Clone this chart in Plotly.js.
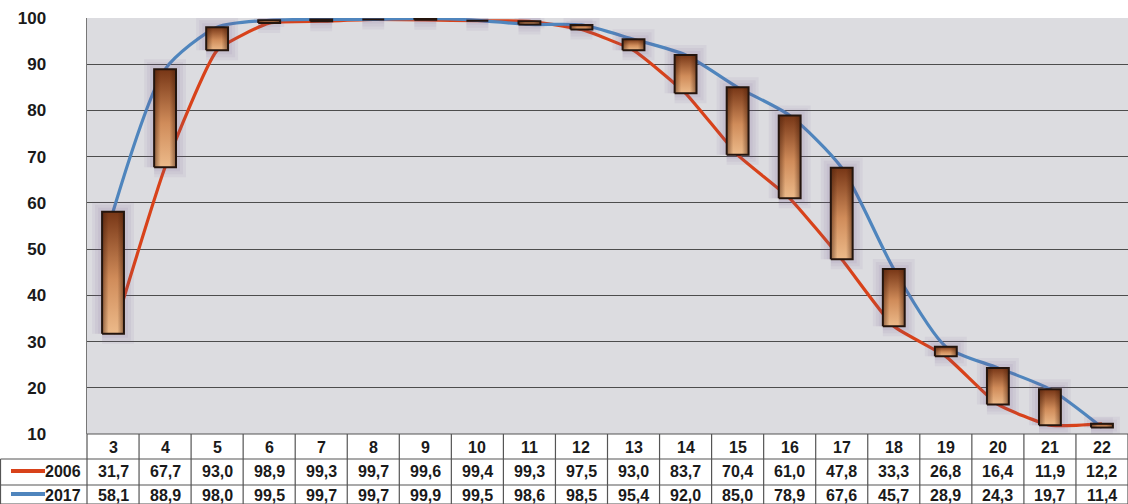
<!DOCTYPE html>
<html><head><meta charset="utf-8">
<script src="https://cdn.plot.ly/plotly-3.0.1.min.js"></script>
<style>html,body{margin:0;padding:0;background:#fff;}#chart{width:1128px;height:504px;}</style>
</head><body><div id="chart"></div>
<script>
const categories = [3,4,5,6,7,8,9,10,11,12,13,14,15,16,17,18,19,20,21,22];
const series2006 = [31.7,67.7,93.0,98.9,99.3,99.7,99.6,99.4,99.3,97.5,93.0,83.7,70.4,61.0,47.8,33.3,26.8,16.4,11.9,12.2];
const series2017 = [58.1,88.9,98.0,99.5,99.7,99.7,99.9,99.5,98.6,98.5,95.4,92.0,85.0,78.9,67.6,45.7,28.9,24.3,19.7,11.4];
const yTicks = [10,20,30,40,50,60,70,80,90,100];

const W = 1128, H = 504, ML = 87, MR = 0, MT = 18, MB = 70;
const plotW = W - ML - MR, plotH = H - MT - MB;
const pyToPaper = py => (H - MB - py) / plotH;
const pxToPaper = px => (px - ML) / plotW;

const RED = '#d8421a', BLUE = '#4f85bd';
const FONT = 'Liberation Sans, Arial, sans-serif';
const fmt = v => v.toFixed(1).replace('.', ',');

const traces = [];
traces.push({x: categories, y: series2006, type: 'scatter', mode: 'lines',
  line: {color: RED, width: 3.2, shape: 'spline', smoothing: 0.45}, hoverinfo: 'skip', showlegend: false});
traces.push({x: categories, y: series2017, type: 'scatter', mode: 'lines',
  line: {color: BLUE, width: 3.2, shape: 'spline', smoothing: 0.7}, hoverinfo: 'skip', showlegend: false});

const hw = 0.21;
categories.forEach((c, i) => {
  const lo = Math.min(series2006[i], series2017[i]);
  const hi = Math.max(series2006[i], series2017[i]);
  const bx = [c-hw, c+hw, c+hw, c-hw, c-hw], by = [lo, lo, hi, hi, lo];
  // soft glow
  [20, 14, 8].forEach(w => {
    traces.push({x: bx, y: by, type: 'scatter', mode: 'lines',
      line: {color: 'rgba(110,90,140,0.07)', width: w}, hoverinfo: 'skip', showlegend: false});
  });
  // box with vertical gradient
  traces.push({x: bx, y: by, type: 'scatter', mode: 'lines',
    fill: 'toself', fillcolor: '#b86c3e',
    fillgradient: {type: 'vertical', colorscale: [[0, '#ecba8a'], [0.45, '#d08c5a'], [1, '#773616']]},
    line: {color: 'rgba(0,0,0,0)', width: 0}, hoverinfo: 'skip', showlegend: false});
  // darker side edges
  traces.push({x: bx, y: by, type: 'scatter', mode: 'lines',
    fill: 'toself', fillcolor: 'rgba(0,0,0,0)',
    fillgradient: {type: 'horizontal', colorscale: [[0, 'rgba(70,30,10,0.55)'], [0.3, 'rgba(70,30,10,0)'], [0.7, 'rgba(70,30,10,0)'], [1, 'rgba(70,30,10,0.55)']]},
    line: {color: '#24150e', width: 2}, hoverinfo: 'skip', showlegend: false});
});

const shapes = [];
const annotations = [];
const lineC = '#555';
const yTop = pyToPaper(434), yH = pyToPaper(459), yR1 = pyToPaper(485), yBot = pyToPaper(504);
shapes.push({type: 'line', xref: 'paper', yref: 'paper', x0: 0, x1: 1, y0: yTop, y1: yTop, line: {color: lineC, width: 1.2}});
shapes.push({type: 'line', xref: 'paper', yref: 'paper', x0: pxToPaper(0.5), x1: 1, y0: yH, y1: yH, line: {color: lineC, width: 1.2}});
shapes.push({type: 'line', xref: 'paper', yref: 'paper', x0: pxToPaper(0.5), x1: 1, y0: yR1, y1: yR1, line: {color: lineC, width: 1.2}});
shapes.push({type: 'line', xref: 'paper', yref: 'paper', x0: pxToPaper(0.5), x1: 1, y0: yBot, y1: yBot, line: {color: lineC, width: 1.2}});
shapes.push({type: 'line', xref: 'paper', yref: 'paper', x0: pxToPaper(0.5), x1: pxToPaper(0.5), y0: yH, y1: yBot, line: {color: lineC, width: 1.2}});
shapes.push({type: 'line', xref: 'paper', yref: 'paper', x0: 0, x1: 0, y0: yTop, y1: yBot, line: {color: lineC, width: 1.2}});
const tf = {family: FONT, size: 16, color: '#1a1a1a'};
categories.forEach((c, i) => {
  const xp = (i + 1) / categories.length;
  shapes.push({type: 'line', xref: 'paper', yref: 'paper', x0: xp, x1: xp, y0: yTop, y1: yBot, line: {color: lineC, width: 1.2}});
  annotations.push({x: c, xref: 'x', y: pyToPaper(447), yref: 'paper', text: '<b>' + c + '</b>', showarrow: false,
    xanchor: 'center', yanchor: 'middle', font: tf});
  annotations.push({x: c, xref: 'x', y: pyToPaper(472), yref: 'paper', text: '<b>' + fmt(series2006[i]) + '</b>', showarrow: false,
    xanchor: 'center', yanchor: 'middle', font: tf});
  annotations.push({x: c, xref: 'x', y: pyToPaper(495), yref: 'paper', text: '<b>' + fmt(series2017[i]) + '</b>', showarrow: false,
    xanchor: 'center', yanchor: 'middle', font: tf});
});
shapes.push({type: 'line', xref: 'paper', yref: 'paper', x0: pxToPaper(11), x1: pxToPaper(45), y0: pyToPaper(471), y1: pyToPaper(471), line: {color: RED, width: 4}});
shapes.push({type: 'line', xref: 'paper', yref: 'paper', x0: pxToPaper(11), x1: pxToPaper(45), y0: pyToPaper(494), y1: pyToPaper(494), line: {color: BLUE, width: 4}});
annotations.push({x: pxToPaper(83), xref: 'paper', y: pyToPaper(471), yref: 'paper', text: '<b>2006</b>', showarrow: false,
  xanchor: 'right', yanchor: 'middle', font: tf});
annotations.push({x: pxToPaper(83), xref: 'paper', y: pyToPaper(495), yref: 'paper', text: '<b>2017</b>', showarrow: false,
  xanchor: 'right', yanchor: 'middle', font: tf});

const layout = {
  width: W, height: H,
  margin: {l: ML, r: MR, t: MT, b: MB, pad: 0},
  paper_bgcolor: '#ffffff', plot_bgcolor: '#dcdce0',
  showlegend: false,
  xaxis: {range: [2.5, 22.5], showticklabels: false, showgrid: false, zeroline: false, ticks: '', fixedrange: true},
  yaxis: {range: [10, 100], tickvals: yTicks, ticktext: yTicks.map(v => '<b>' + v + '</b>'),
    showgrid: true, gridcolor: '#4d4d4d', gridwidth: 1, zeroline: false,
    showline: true, linecolor: '#777', linewidth: 1.5,
    ticks: 'outside', ticklen: 36, tickcolor: 'rgba(0,0,0,0)',
    tickfont: {family: FONT, size: 17, color: '#1a1a1a'}, fixedrange: true},
  shapes: shapes, annotations: annotations
};
Plotly.newPlot('chart', traces, layout, {staticPlot: true, displayModeBar: false});
</script></body></html>
